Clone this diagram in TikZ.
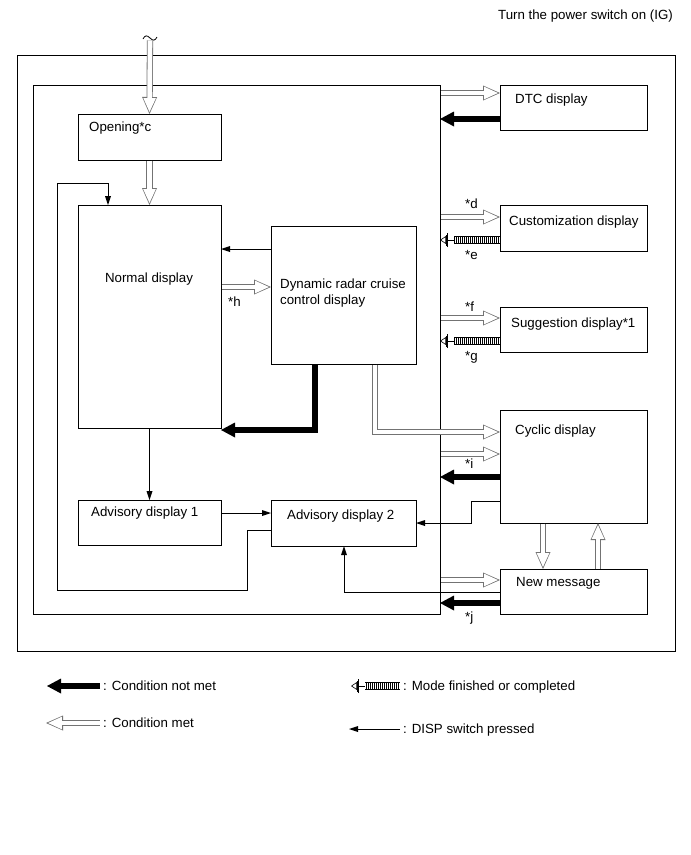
\documentclass[tikz,border=0pt]{standalone}
\usepackage{fontspec}
\setmainfont{Liberation Sans}
\usetikzlibrary{arrows.meta}
\definecolor{hgray}{gray}{0.45}
\tikzset{
  box/.style={draw, line width=0.9pt, anchor=north west, inner sep=0pt, outer sep=0pt},
  lbl/.style={inner sep=0pt, text height=9.5pt, text depth=2.5pt, anchor=west},
  hollow/.style={draw=white, line width=4.6pt, shorten <=0.5pt,
    -{Triangle[length=13.8pt,width=12.6pt,line width=0pt]}, shorten >=2.1pt,
    preaction={draw=hgray, line width=6.2pt, shorten >=0pt,
      -{Triangle[length=17pt,width=15pt,line width=0pt]}}},
  notmet/.style={draw, line width=6pt, -{Triangle[length=14pt,width=15pt,line width=0pt]}},
  disp/.style={draw, line width=0.8pt, -{Triangle[length=9pt,width=6pt,line width=0pt]}},
  striped/.style={
    preaction={draw, line width=0.6pt,
      -{Bar[width=14pt,line width=1pt] Bar[width=11pt,line width=1pt] Triangle[open,length=6pt,width=8pt,line width=0.6pt]}},
    preaction={draw, line width=7.5pt, shorten >=14pt},
    postaction={draw=white, line width=6pt, shorten >=14pt, dash pattern=on 1pt off 1pt}},
}
\begin{document}
\begin{tikzpicture}[x=1pt, y=-1pt, font=\fontsize{13.3}{16}\selectfont]
\fill[white] (0,0) rectangle (691,855);
\useasboundingbox (0,0) rectangle (691,855);

% frames
\node[box, minimum width=658pt, minimum height=596pt] (outer) at (17,55) {};
\node[box, minimum width=407pt, minimum height=529pt] (inner) at (33,85) {};

% boxes
\node[box, minimum width=143pt, minimum height=46pt] (opening) at (78,114) {};
\node[box, minimum width=143pt, minimum height=223pt] (normal) at (78,205) {};
\node[box, minimum width=145pt, minimum height=138pt] (drc) at (271,226) {};
\node[box, minimum width=143pt, minimum height=45pt] (adv1) at (78,500) {};
\node[box, minimum width=145pt, minimum height=46pt] (adv2) at (271,500) {};
\node[box, minimum width=147pt, minimum height=45pt] (dtc) at (500,85) {};
\node[box, minimum width=147pt, minimum height=46pt] (cust) at (500,205) {};
\node[box, minimum width=147pt, minimum height=45pt] (sugg) at (500,307) {};
\node[box, minimum width=147pt, minimum height=113pt] (cyclic) at (500,410) {};
\node[box, minimum width=147pt, minimum height=45pt] (newmsg) at (500,569) {};

% texts
\node[lbl, anchor=east] (title) at (673,16) {Turn the power switch on (IG)};
\node[lbl] (topening) at (89,128) {Opening*c};
\node[lbl, anchor=center] (tnormal) at (149,279) {Normal display};
\node[lbl] (tdrc1) at (280,285) {Dynamic radar cruise};
\node[lbl] (tdrc2) at (280,301) {control display};
\node[lbl] (tadv1) at (91,513) {Advisory display 1};
\node[lbl] (tadv2) at (287,516) {Advisory display 2};
\node[lbl] (tdtc) at (515,100) {DTC display};
\node[lbl] (tcust) at (509,222) {Customization display};
\node[lbl] (tsugg) at (511,324) {Suggestion display*1};
\node[lbl] (tcyc) at (515,431) {Cyclic display};
\node[lbl] (tnew) at (516,583) {New message};
\node[lbl] (ld) at (465,205) {*d};
\node[lbl] (le) at (465,256) {*e};
\node[lbl] (lf) at (465,308) {*f};
\node[lbl] (lg) at (465,357) {*g};
\node[lbl] (lh) at (228,303) {*h};
\node[lbl] (li) at (465,465) {*i};
\node[lbl] (lj) at (465,618) {*j};

% entry arrow with break mark
\coordinate (entry) at (150,40);
\draw[hollow] (entry) -- (opening.north);
\draw[line width=0.8pt] (143,39) .. controls (145,35) and (147,35) .. (150,38) .. controls (153,41) and (155,41) .. (157,37);

\draw[hollow] (opening.south) -- (normal.north);

% DISP loop
\draw[disp] (adv2.west |- 0,530) -- (247,530) -- (247,590) -- (57,590) -- (57,183) -- (108,183) -- (normal.north -| 108,0);
\draw[disp] (drc.west |- 0,249) -- (normal.east |- 0,249);
\draw[hollow] (normal.east |- 0,287) -- (drc.west |- 0,287);
\draw[notmet] (drc.south -| 315,0) -- (315,430) -- (normal.east |- 0,430);
\draw[hollow] (drc.south -| 375,0) -- (375,432) -- (cyclic.west |- 0,432);
\draw[disp] (normal.south) -- (adv1.north);
\draw[disp] (adv1.east |- 0,513) -- (adv2.west |- 0,513);
\draw[disp] (cyclic.west |- 0,501) -- (471,501) -- (471,523) -- (adv2.east |- 0,523);
\draw[disp] (newmsg.west |- 0,592) -- (344,592) -- (adv2.south -| 344,0);

% right side
\draw[hollow] (inner.east |- 0,93) -- (dtc.west |- 0,93);
\draw[notmet] (dtc.west |- 0,119) -- (inner.east |- 0,119);
\draw[hollow] (inner.east |- 0,217) -- (cust.west |- 0,217);
\path[striped] (cust.west |- 0,240) -- (inner.east |- 0,240);
\draw[hollow] (inner.east |- 0,318) -- (sugg.west |- 0,318);
\path[striped] (sugg.west |- 0,341) -- (inner.east |- 0,341);
\draw[hollow] (inner.east |- 0,454) -- (cyclic.west |- 0,454);
\draw[notmet] (cyclic.west |- 0,477) -- (inner.east |- 0,477);
\draw[hollow] (cyclic.south -| 543,0) -- (newmsg.north -| 543,0);
\draw[hollow] (newmsg.north -| 598,0) -- (cyclic.south -| 598,0);
\draw[hollow] (inner.east |- 0,580) -- (newmsg.west |- 0,580);
\draw[notmet] (newmsg.west |- 0,603) -- (inner.east |- 0,603);

% legend
\coordinate (l1a) at (100,686); \coordinate (l1b) at (47,686);
\coordinate (l2a) at (100,723); \coordinate (l2b) at (46,723);
\coordinate (l3a) at (400,686); \coordinate (l3b) at (351,686);
\coordinate (l4a) at (400,729); \coordinate (l4b) at (349,729);
\draw[notmet] (l1a) -- (l1b);
\draw[hollow] (l2a) -- (l2b);
\path[striped] (l3a) -- (l3b);
\draw[disp] (l4a) -- (l4b);
\node[lbl] (t1) at (103,687) {: Condition not met};
\node[lbl] (t2) at (103,724) {: Condition met};
\node[lbl] (t3) at (403,687) {: Mode finished or completed};
\node[lbl] (t4) at (403,730) {: DISP switch pressed};
\end{tikzpicture}
\end{document}
